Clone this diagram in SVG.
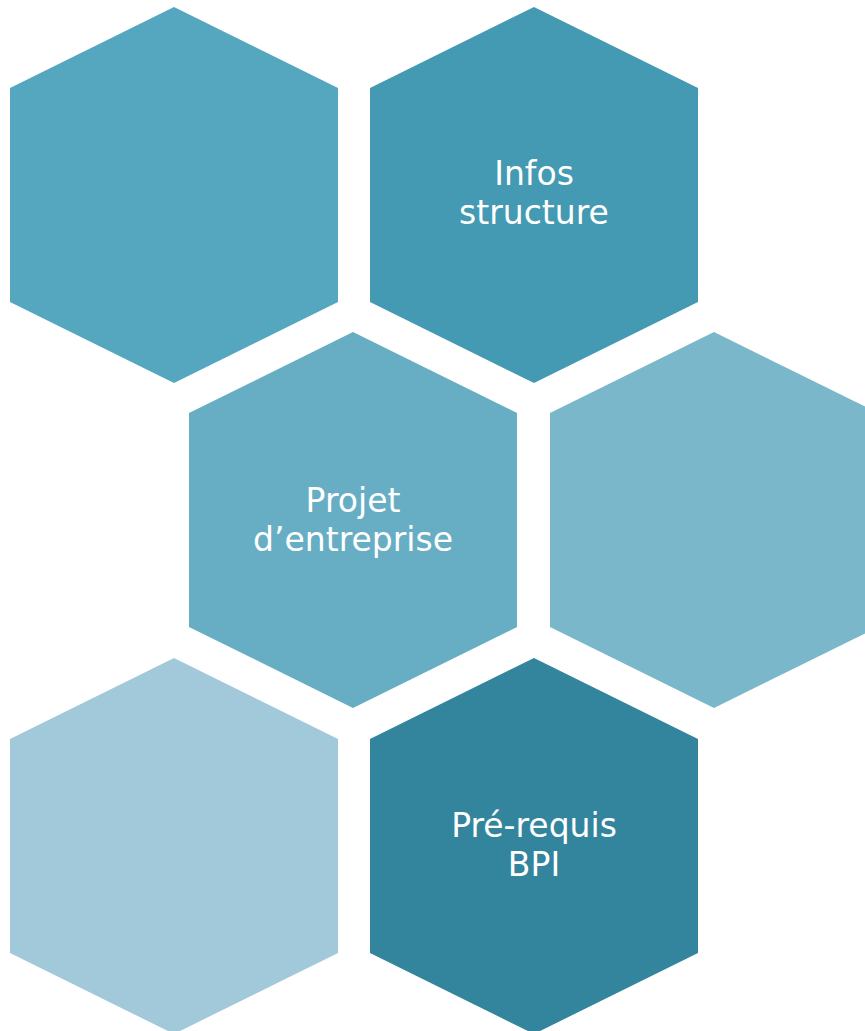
<svg xmlns="http://www.w3.org/2000/svg" width="865" height="1031" viewBox="0 0 865 1031">
<defs>
<style>
.lbl{font-family:"DejaVu Sans","Open Sans",sans-serif;font-size:33px;fill:#ffffff;text-anchor:middle}
</style>
<polygon id="hex" points="164,0 328,81 328,295 164,376 0,295 0,81"/>
</defs>
<rect width="865" height="1031" fill="#ffffff"/>
<g id="hex-top-left"><use href="#hex" x="10" y="7" fill="#55A6BF"/></g>
<g id="hex-infos-structure"><use href="#hex" x="370" y="7" fill="#449AB2"/>
<text class="lbl" x="534" y="185">Infos</text><text class="lbl" x="534" y="224">structure</text></g>
<g id="hex-projet"><use href="#hex" x="189" y="332" fill="#67AEC5"/>
<text class="lbl" x="353" y="512">Projet</text><text class="lbl" x="353" y="551">d’entreprise</text></g>
<g id="hex-mid-right"><use href="#hex" x="550" y="332" fill="#7AB7CA"/></g>
<g id="hex-bottom-left"><use href="#hex" x="10" y="658" fill="#A2C9D9"/></g>
<g id="hex-prerequis"><use href="#hex" x="370" y="658" fill="#32859D"/>
<text class="lbl" x="534" y="837">Pré-requis</text><text class="lbl" x="534" y="876">BPI</text></g>
<g id="connectors"></g>
</svg>
